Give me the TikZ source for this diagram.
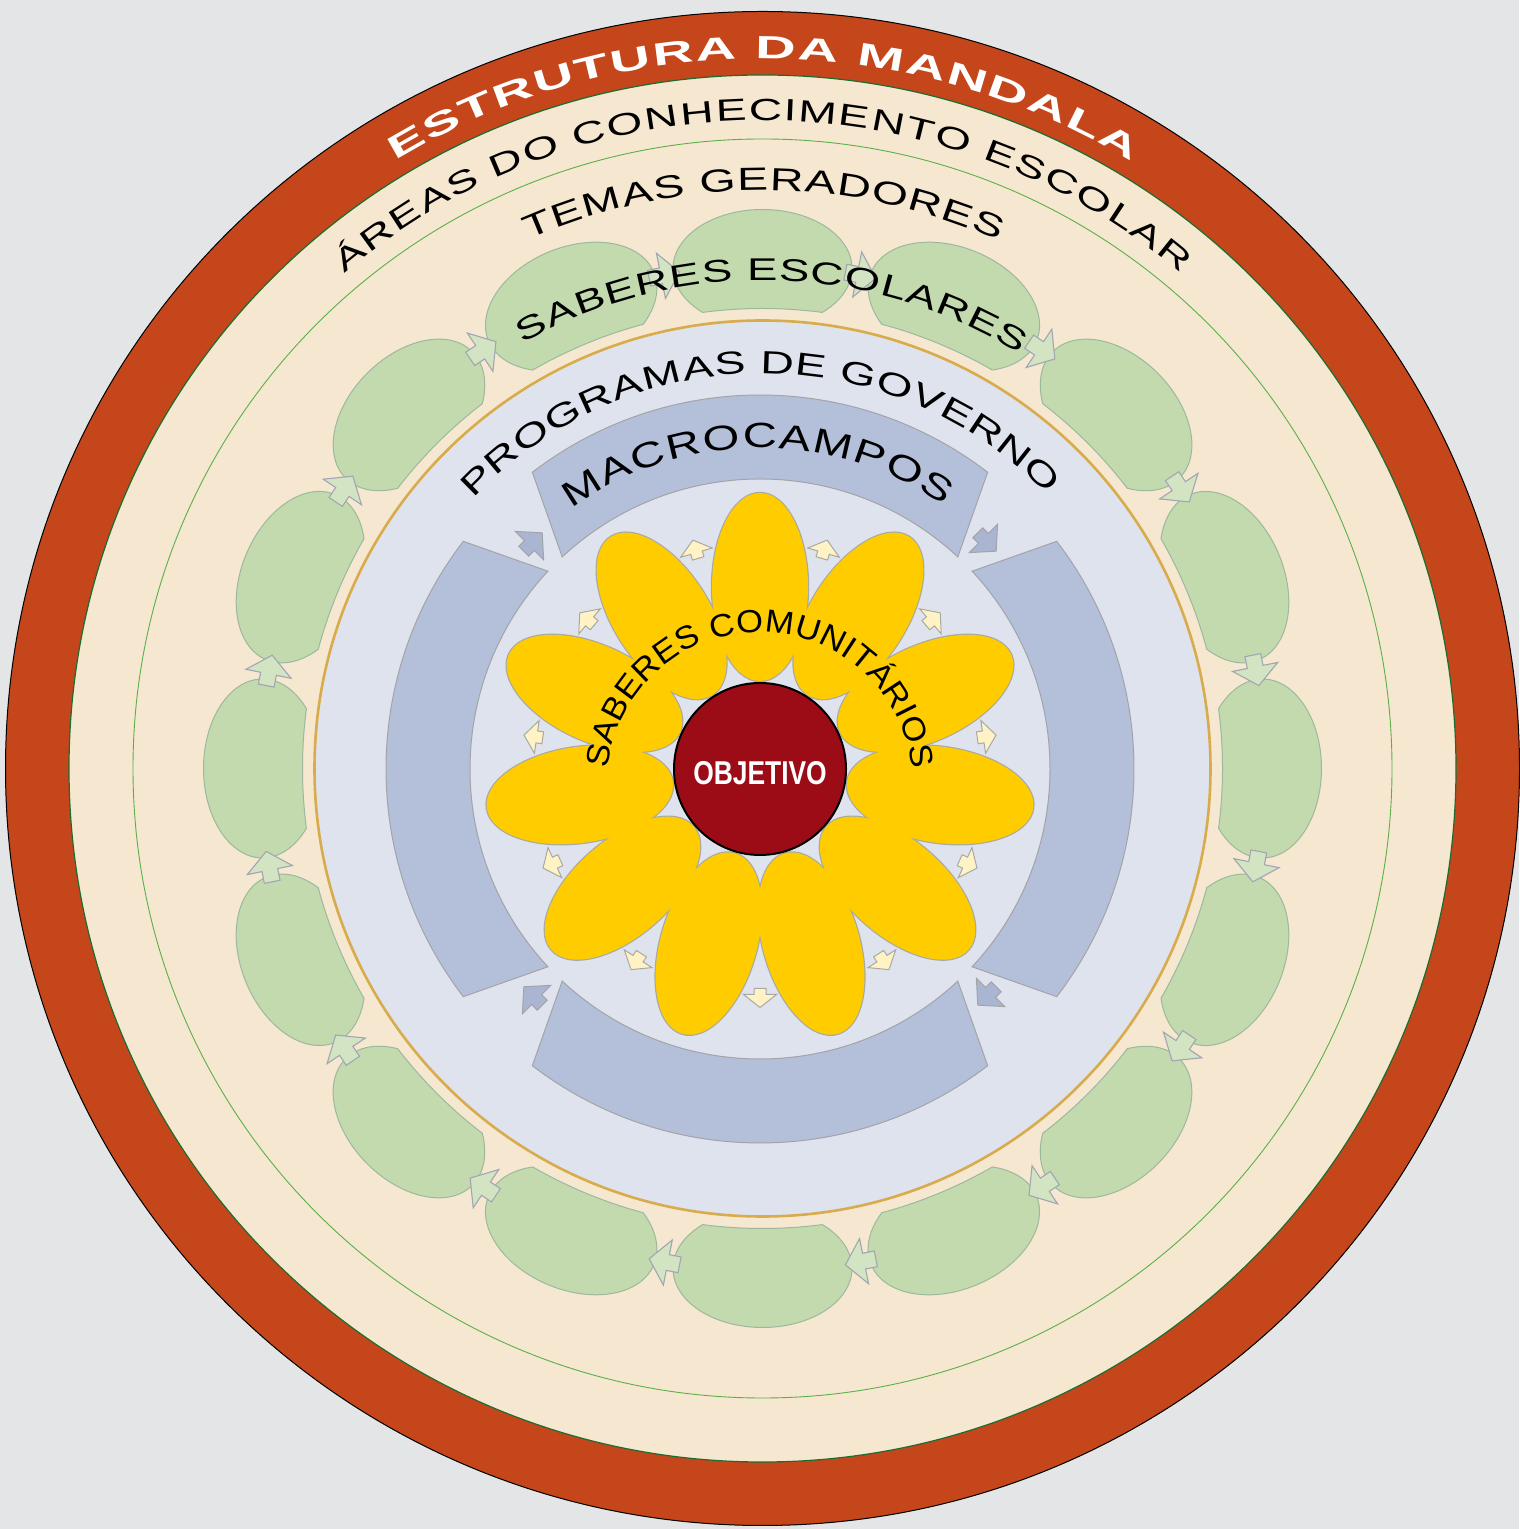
\documentclass[tikz,border=0pt]{standalone}
\usepackage{fontspec}
\setmainfont{Liberation Sans}
\newfontfamily\fWide{Liberation Sans}[FakeStretch=1.45]
\newfontfamily\fWider{Liberation Sans}[FakeStretch=1.5]
\newfontfamily\fMac{Liberation Sans}[FakeStretch=1.35]
\newfontfamily\fEst{Liberation Sans}[FakeStretch=1.75]
\newfontfamily\fSab{Liberation Sans}[FakeStretch=1.08]
\newfontfamily\fObj{Liberation Sans}[FakeStretch=0.8]
\usetikzlibrary{decorations.text,calc}
\definecolor{cbg}{HTML}{E4E5E7}
\definecolor{corange}{HTML}{C4461A}
\definecolor{cbeige}{HTML}{F5E7D0}
\definecolor{cdkgreen}{HTML}{1E6B30}
\definecolor{cthin}{HTML}{5BB04A}
\definecolor{cblob}{HTML}{C3DAAE}
\definecolor{cblobline}{HTML}{9DB89E}
\definecolor{cgarrow}{HTML}{D3E4C3}
\definecolor{carrowline}{HTML}{A2A5B2}
\definecolor{ctan}{HTML}{D8AB4C}
\definecolor{clight}{HTML}{DFE3EE}
\definecolor{cmacro}{HTML}{B4BFD9}
\definecolor{cmacroline}{HTML}{A4A4A8}
\definecolor{cbarrow}{HTML}{AAB5D2}
\definecolor{cyellow}{HTML}{FFCC00}
\definecolor{cpetalline}{HTML}{A9A9A3}
\definecolor{cyarrow}{HTML}{FFF3C6}
\definecolor{cred}{HTML}{9B0C17}
\tikzset{
  blob/.style={fill=cblob, draw=cblobline, line width=1},
  garrow/.style={fill=cgarrow, draw=carrowline, line width=1.1},
  macroarc/.style={fill=cmacro, draw=cmacroline, line width=1},
  barrow/.style={fill=cbarrow, draw=cmacroline, line width=1},
  yarrow/.style={fill=cyarrow, draw=cpetalline, line width=1},
  arctext/.style 2 args={decorate, decoration={text effects along path, text={#1},
     text effects/.cd, text along path, fit text to path, characters={#2}}}
}
\begin{document}
\begin{tikzpicture}[x=1pt,y=1pt]
\useasboundingbox (0,0) rectangle (1519,1529);
\fill[cbg] (0,0) rectangle (1519,1529);
\coordinate (O) at (762.5,760.5);
\coordinate (I) at (760,760);
\coordinate (T) at (760,744);
% outer rings
\draw[fill=corange, draw=black, line width=1] (O) circle[radius=757];
\draw[fill=cbeige, draw=cdkgreen, line width=1.2] (O) circle[radius=693.5];
\draw[draw=cthin, line width=0.9] (O) circle[radius=629.5];
% green blobs
\foreach \k in {0,...,15}{
  \pgfmathsetmacro\a{90+22.5*\k}
  \begin{scope}[shift={(O)}, rotate=\a]
    \draw[blob] (456.1,-59.8) arc[start angle=-138.08, end angle=138.08, x radius=59, y radius=89.5]
       arc[start angle=7.47, end angle=-7.47, radius=460] -- cycle;
  \end{scope}
}
% green arrows
\foreach \k in {0,...,15}{
  \pgfmathsetmacro\a{101.25+22.5*\k}
  \begin{scope}[shift={(O)}, rotate=\a]
   \begin{scope}[shift={(503,0)}, rotate=-90]
    \draw[garrow] (-15.5,-8) -- (-3.5,-8) -- (-3.5,-23) -- (15.5,0) -- (-3.5,23) -- (-3.5,8) -- (-15.5,8) -- cycle;
   \end{scope}
  \end{scope}
}
% inner disc
\draw[fill=clight, draw=ctan, line width=2.6] (O) circle[radius=448];
% macrocampos arcs
\foreach \p in {90,0,-90,180}{
  \begin{scope}[shift={(I)}, rotate=\p]
    \draw[macroarc] (-37.5:374) arc[start angle=-37.5, end angle=37.5, radius=374]
      -- (43:290) arc[start angle=43, end angle=-43, radius=290] -- cycle;
  \end{scope}
}
% blue arrows
\foreach \p in {45,135,225,315}{
  \begin{scope}[shift={(I)}, rotate=\p]
   \begin{scope}[shift={(321,0)}, rotate=-90]
    \draw[barrow] (-13,-7) -- (-5,-7) -- (-5,-20) -- (13,0) -- (-5,20) -- (-5,7) -- (-13,7) -- cycle;
   \end{scope}
  \end{scope}
}
% petals: outline pass then fill pass
\foreach \k in {0,...,10}{
  \pgfmathsetmacro\a{90+32.7272727*\k}
  \begin{scope}[shift={(I)}, rotate=\a]
    \draw[draw=cpetalline, line width=2.4] (182,0) ellipse[x radius=94, y radius=48];
  \end{scope}
}
\foreach \k in {0,...,10}{
  \pgfmathsetmacro\a{90+32.7272727*\k}
  \begin{scope}[shift={(I)}, rotate=\a]
    \fill[cyellow] (182,0) ellipse[x radius=94, y radius=48];
  \end{scope}
}
% yellow arrows
\foreach \k in {0,...,10}{
  \pgfmathsetmacro\a{106.3636364+32.7272727*\k}
  \begin{scope}[shift={(I)}, rotate=\a]
   \begin{scope}[shift={(229,0)}]
    \draw[yarrow] (-9.5,-6) -- (-3.5,-6) -- (-3.5,-16.5) -- (9.5,0) -- (-3.5,16.5) -- (-3.5,6) -- (-9.5,6) -- cycle;
   \end{scope}
  \end{scope}
}
% centre
\draw[fill=cred, draw=black, line width=2] (I) circle[radius=86];
\node[text=white, font=\fObj\bfseries\fontsize{33}{36}\selectfont, inner sep=0] (obj) at (760,755.5) {OBJETIVO};
% arc texts
\path[arctext={ESTRUTURA DA MANDALA}{text=white, font=\fEst\bfseries\fontsize{32}{38}\selectfont}]
  ($(O)+(121.1:710)$) arc[start angle=121.1, end angle=58.7, radius=710];
\path[arctext={ÁREAS DO CONHECIMENTO ESCOLAR}{text=black, font=\fWider\fontsize{30.7}{36}\selectfont}]
  ($(O)+(130.2:648)$) arc[start angle=130.2, end angle=49.8, radius=648];
\path[arctext={TEMAS GERADORES}{text=black, font=\fWide\fontsize{32}{38}\selectfont}]
  ($(O)+(113.9:578)$) arc[start angle=113.9, end angle=65.9, radius=578];
\path[arctext={SABERES ESCOLARES}{text=black, font=\fWide\fontsize{31.4}{38}\selectfont}]
  ($(O)+(119.4:488)$) arc[start angle=119.4, end angle=58.2, radius=488];
\path[arctext={PROGRAMAS DE GOVERNO}{text=black, font=\fWide\fontsize{32}{38}\selectfont}]
  ($(O)+(137:395)$) arc[start angle=137, end angle=43.8, radius=395];
\path[arctext={MACROCAMPOS}{text=black, font=\fMac\fontsize{35}{40}\selectfont}]
  ($(I)+(126:321)$) arc[start angle=126, end angle=55, radius=321];
\path[arctext={SABERES COMUNITÁRIOS}{text=black, font=\fSab\fontsize{32}{38}\selectfont}]
  ($(T)+(174:153)$) arc[start angle=174, end angle=6, radius=153];
\end{tikzpicture}
\end{document}
